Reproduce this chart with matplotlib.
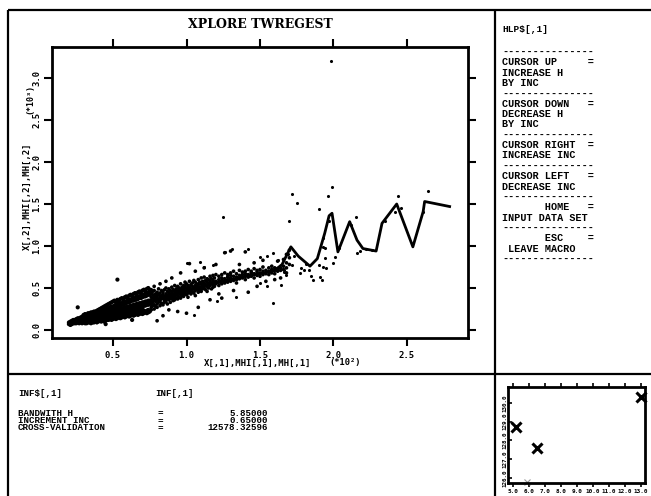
import matplotlib.pyplot as plt

W, H = 651, 496

# kernel regression estimate (x in units of 10^2, y in units of 10^3)
fit_x = [0.20, 0.30, 0.40, 0.50, 0.60, 0.70, 0.80, 0.90, 1.00, 1.10, 1.20,
         1.30, 1.40, 1.50, 1.60, 1.65, 1.71, 1.76, 1.84, 1.89, 1.94, 1.97,
         1.99, 2.03, 2.11, 2.16, 2.20, 2.29, 2.33, 2.43, 2.54, 2.61, 2.62, 2.79]
fit_y = [0.08, 0.12, 0.16, 0.20, 0.25, 0.30, 0.36, 0.42, 0.47, 0.52, 0.56,
         0.60, 0.64, 0.67, 0.71, 0.78, 0.99, 0.88, 0.76, 0.85, 1.15, 1.36,
         1.39, 0.93, 1.29, 1.07, 0.97, 0.94, 1.27, 1.50, 0.99, 1.41, 1.53, 1.47]

# main body of the observations: (x, [y values at that x])
cloud_cols = [
    (0.20, [0.07, 0.09]),
    (0.21, [0.08, 0.06, 0.10]),
    (0.22, [0.09, 0.07, 0.11]),
    (0.23, [0.10, 0.08, 0.12, 0.09]),
    (0.24, [0.10, 0.08, 0.12, 0.11]),
    (0.25, [0.11, 0.09, 0.13, 0.08, 0.12]),
    (0.26, [0.11, 0.09, 0.14, 0.10, 0.27]),
    (0.27, [0.12, 0.10, 0.14, 0.08, 0.11]),
    (0.28, [0.12, 0.09, 0.15, 0.11, 0.13]),
    (0.29, [0.12, 0.10, 0.16, 0.08, 0.14]),
    (0.30, [0.13, 0.10, 0.16, 0.09, 0.12, 0.18]),
    (0.31, [0.13, 0.10, 0.17, 0.08, 0.15, 0.11, 0.19]),
    (0.32, [0.14, 0.09, 0.16, 0.11, 0.18, 0.12, 0.08]),
    (0.33, [0.14, 0.10, 0.17, 0.12, 0.20, 0.09, 0.15]),
    (0.34, [0.15, 0.11, 0.18, 0.09, 0.13, 0.20, 0.16]),
    (0.35, [0.15, 0.10, 0.19, 0.12, 0.17, 0.08, 0.21, 0.13]),
    (0.36, [0.16, 0.12, 0.19, 0.09, 0.14, 0.21, 0.11, 0.17]),
    (0.37, [0.16, 0.11, 0.20, 0.13, 0.18, 0.09, 0.22, 0.14]),
    (0.38, [0.17, 0.12, 0.20, 0.10, 0.15, 0.22, 0.13, 0.18]),
    (0.39, [0.17, 0.11, 0.21, 0.14, 0.19, 0.09, 0.23, 0.15]),
    (0.40, [0.18, 0.12, 0.22, 0.10, 0.15, 0.20, 0.13, 0.24]),
    (0.41, [0.18, 0.13, 0.22, 0.11, 0.16, 0.20, 0.14, 0.25]),
    (0.42, [0.19, 0.12, 0.23, 0.10, 0.16, 0.21, 0.14, 0.26, 0.17]),
    (0.43, [0.19, 0.13, 0.24, 0.11, 0.17, 0.22, 0.15, 0.27, 0.20]),
    (0.44, [0.20, 0.14, 0.24, 0.10, 0.17, 0.22, 0.15, 0.28, 0.12]),
    (0.45, [0.20, 0.13, 0.25, 0.11, 0.18, 0.23, 0.16, 0.29, 0.07]),
    (0.46, [0.21, 0.14, 0.26, 0.12, 0.18, 0.23, 0.16, 0.30, 0.19]),
    (0.47, [0.21, 0.15, 0.26, 0.12, 0.19, 0.24, 0.17, 0.31, 0.14]),
    (0.48, [0.22, 0.14, 0.27, 0.13, 0.19, 0.25, 0.17, 0.32, 0.16]),
    (0.49, [0.22, 0.15, 0.28, 0.12, 0.20, 0.25, 0.18, 0.33, 0.24]),
    (0.50, [0.23, 0.16, 0.28, 0.13, 0.20, 0.26, 0.18, 0.34, 0.15]),
    (0.51, [0.23, 0.15, 0.29, 0.14, 0.21, 0.27, 0.19, 0.35, 0.17]),
    (0.52, [0.24, 0.16, 0.30, 0.13, 0.21, 0.27, 0.19, 0.33, 0.18]),
    (0.53, [0.24, 0.17, 0.30, 0.14, 0.22, 0.28, 0.20, 0.36, 0.60]),
    (0.54, [0.25, 0.16, 0.31, 0.15, 0.22, 0.29, 0.20, 0.35, 0.18]),
    (0.55, [0.25, 0.17, 0.32, 0.14, 0.23, 0.29, 0.21, 0.37, 0.19]),
    (0.56, [0.26, 0.18, 0.32, 0.15, 0.23, 0.30, 0.21, 0.38, 0.20]),
    (0.57, [0.26, 0.17, 0.33, 0.16, 0.24, 0.31, 0.22, 0.36, 0.19]),
    (0.58, [0.27, 0.18, 0.34, 0.15, 0.24, 0.31, 0.22, 0.39, 0.20]),
    (0.59, [0.27, 0.19, 0.34, 0.16, 0.25, 0.32, 0.23, 0.40, 0.21]),
    (0.60, [0.28, 0.18, 0.35, 0.17, 0.25, 0.33, 0.23, 0.38, 0.21]),
    (0.61, [0.28, 0.19, 0.36, 0.16, 0.26, 0.33, 0.24, 0.41, 0.22]),
    (0.62, [0.29, 0.20, 0.36, 0.17, 0.26, 0.34, 0.24, 0.42, 0.22]),
    (0.63, [0.29, 0.19, 0.37, 0.18, 0.27, 0.35, 0.25, 0.40, 0.12]),
    (0.64, [0.30, 0.20, 0.38, 0.17, 0.27, 0.35, 0.25, 0.43, 0.23]),
    (0.65, [0.30, 0.21, 0.38, 0.18, 0.28, 0.36, 0.26, 0.44, 0.23]),
    (0.66, [0.31, 0.20, 0.39, 0.19, 0.28, 0.36, 0.26, 0.42, 0.24]),
    (0.67, [0.31, 0.21, 0.40, 0.18, 0.29, 0.37, 0.27, 0.45, 0.24]),
    (0.68, [0.32, 0.22, 0.40, 0.19, 0.29, 0.38, 0.27, 0.46, 0.25]),
    (0.69, [0.32, 0.21, 0.41, 0.20, 0.30, 0.38, 0.28, 0.44, 0.25]),
    (0.70, [0.33, 0.22, 0.42, 0.19, 0.30, 0.39, 0.28, 0.47, 0.26]),
    (0.71, [0.33, 0.23, 0.42, 0.20, 0.31, 0.40, 0.29, 0.48]),
    (0.72, [0.34, 0.22, 0.43, 0.21, 0.31, 0.40, 0.29, 0.46]),
    (0.73, [0.34, 0.23, 0.44, 0.20, 0.32, 0.41, 0.30, 0.49]),
    (0.74, [0.35, 0.24, 0.44, 0.21, 0.32, 0.42, 0.30, 0.50]),
    (0.75, [0.35, 0.23, 0.45, 0.22, 0.33, 0.42, 0.31, 0.48]),
    (0.76, [0.31, 0.44, 0.27, 0.39, 0.35, 0.48, 0.24]),
    (0.77, [0.38, 0.29, 0.42, 0.33, 0.46]),
    (0.78, [0.36, 0.25, 0.41, 0.30, 0.47, 0.52]),
    (0.79, [0.34, 0.43, 0.28, 0.39]),
    (0.80, [0.40, 0.31, 0.45, 0.27, 0.36, 0.11]),
    (0.81, [0.37, 0.49, 0.33, 0.42]),
    (0.82, [0.35, 0.44, 0.29, 0.39, 0.55]),
    (0.83, [0.41, 0.32, 0.47, 0.37]),
    (0.84, [0.38, 0.45, 0.30, 0.42, 0.17]),
    (0.85, [0.36, 0.48, 0.40, 0.33]),
    (0.86, [0.43, 0.34, 0.39, 0.50, 0.58]),
    (0.87, [0.41, 0.31, 0.46, 0.37]),
    (0.88, [0.44, 0.36, 0.49, 0.40, 0.24]),
    (0.89, [0.38, 0.47, 0.42, 0.33]),
    (0.90, [0.45, 0.37, 0.51, 0.41, 0.62]),
    (0.91, [0.43, 0.35, 0.48, 0.39]),
    (0.92, [0.46, 0.40, 0.53, 0.36]),
    (0.93, [0.42, 0.49, 0.38, 0.45]),
    (0.94, [0.47, 0.41, 0.52, 0.37, 0.22]),
    (0.95, [0.44, 0.50, 0.39, 0.46]),
    (0.96, [0.48, 0.42, 0.55, 0.38, 0.68]),
    (0.97, [0.45, 0.51, 0.41, 0.47]),
    (0.98, [0.49, 0.43, 0.53, 0.40]),
    (0.99, [0.46, 0.52, 0.44, 0.57]),
    (1.00, [0.50, 0.42, 0.55, 0.47, 0.20]),
    (1.01, [0.48, 0.53, 0.44, 0.39]),
    (1.02, [0.51, 0.45, 0.58, 0.49, 0.79]),
    (1.03, [0.47, 0.54, 0.43]),
    (1.04, [0.52, 0.46, 0.56, 0.49]),
    (1.05, [0.50, 0.44, 0.59]),
    (1.06, [0.53, 0.47, 0.57, 0.41, 0.70]),
    (1.07, [0.49, 0.55, 0.51]),
    (1.08, [0.54, 0.48, 0.60, 0.45, 0.27]),
    (1.09, [0.51, 0.57, 0.47]),
    (1.10, [0.55, 0.50, 0.62, 0.46]),
    (1.11, [0.53, 0.58, 0.49]),
    (1.12, [0.56, 0.51, 0.63, 0.74]),
    (1.13, [0.54, 0.48, 0.59]),
    (1.14, [0.57, 0.52, 0.61, 0.46]),
    (1.15, [0.55, 0.60, 0.50]),
    (1.16, [0.58, 0.53, 0.64, 0.36]),
    (1.17, [0.56, 0.49, 0.61]),
    (1.18, [0.59, 0.54, 0.65, 0.51]),
    (1.19, [0.57, 0.62, 0.52]),
    (1.20, [0.58, 0.55, 0.66, 0.78]),
    (1.22, [0.60, 0.53, 0.64, 0.57, 0.43]),
    (1.24, [0.59, 0.66, 0.55, 0.62, 0.38]),
    (1.26, [0.61, 0.56, 0.68, 0.58, 0.92]),
    (1.28, [0.63, 0.57, 0.66, 0.60]),
    (1.30, [0.62, 0.68, 0.58, 0.65, 0.94]),
    (1.32, [0.64, 0.59, 0.70, 0.47]),
    (1.34, [0.63, 0.67, 0.60, 0.56]),
    (1.36, [0.65, 0.61, 0.71, 0.78]),
    (1.38, [0.66, 0.62, 0.69]),
    (1.40, [0.64, 0.70, 0.60, 0.67, 0.93]),
    (1.42, [0.66, 0.63, 0.72, 0.45]),
    (1.44, [0.68, 0.64, 0.70]),
    (1.46, [0.67, 0.73, 0.62, 0.80]),
    (1.48, [0.69, 0.65, 0.71, 0.52]),
    (1.50, [0.68, 0.72, 0.64]),
    (1.52, [0.70, 0.66, 0.75, 0.83]),
    (1.54, [0.71, 0.67, 0.58]),
    (1.56, [0.70, 0.74, 0.66]),
    (1.58, [0.72, 0.68, 0.76]),
    (1.60, [0.71, 0.74, 0.60, 0.67]),
    (1.62, [0.73, 0.70, 0.82]),
    (1.64, [0.74, 0.71, 0.62]),
    (1.66, [0.76, 0.72, 0.84]),
    (1.68, [0.80, 0.74, 0.90, 0.68]),
    (1.70, [0.86, 0.78, 0.95]),
]

# observations away from the main body
extra_x = [1.25, 1.72, 1.75, 1.70, 1.90, 1.96, 1.98, 1.99, 2.15, 2.44, 2.64,
           1.26, 1.31, 1.42, 1.50, 1.55, 1.59, 1.59, 1.34, 1.21, 1.05, 1.09,
           1.00, 1.12, 1.18, 1.50, 1.55, 1.64, 1.66, 1.66, 1.72, 1.77, 1.85,
           1.91, 1.93, 1.94, 1.93, 1.93, 1.94, 2.00, 2.01, 1.95, 1.90, 1.86,
           1.92, 1.78, 1.80, 2.16, 2.18, 2.42, 2.61, 2.22, 2.26, 1.62, 1.69,
           1.73, 1.68, 2.04, 2.12, 2.35, 2.46, 1.81, 1.83, 1.97]
extra_y = [1.35, 1.62, 1.51, 1.30, 1.44, 1.60, 3.20, 1.70, 1.35, 1.60, 1.65,
           0.93, 0.96, 0.96, 0.87, 0.88, 0.92, 0.32, 0.39, 0.35, 0.18, 0.81,
           0.80, 0.75, 0.77, 0.56, 0.52, 0.54, 0.69, 0.72, 0.77, 0.68, 0.64,
           0.63, 0.75, 0.98, 1.10, 0.99, 0.86, 0.80, 0.87, 0.74, 0.77, 0.60,
           0.60, 0.74, 0.71, 0.92, 0.94, 1.40, 1.40, 0.96, 0.95, 0.83, 0.90,
           0.88, 0.66, 0.98, 1.25, 1.30, 1.45, 0.78, 0.72, 1.30]

x_ticks = [0.5, 1.0, 1.5, 2.0, 2.5]
y_ticks = [0.0, 0.5, 1.0, 1.5, 2.0, 2.5, 3.0]

# current settings of the macro
bandwidth = 5.85
increment = 0.65
cross_val = 12578.32596

# cross-validation scores already visited (score in units of 10^2)
cv_h = [5.2, 6.5, 13.0]
cv_score = [128.7, 127.6, 130.3]
cv_xticks = [5, 6, 7, 8, 9, 10, 11, 12, 13]
cv_yticks = [126, 127, 128, 129, 130]

help_lines = [
    "---------------",
    "CURSOR UP     =",
    "INCREASE H",
    "BY INC",
    "---------------",
    "CURSOR DOWN   =",
    "DECREASE H",
    "BY INC",
    "---------------",
    "CURSOR RIGHT  =",
    "INCREASE INC",
    "---------------",
    "CURSOR LEFT   =",
    "DECREASE INC",
    "---------------",
    "       HOME   =",
    "INPUT DATA SET",
    "---------------",
    "       ESC    =",
    " LEAVE MACRO",
    "---------------",
]

MONO = "DejaVu Sans Mono"
PANEL = "Liberation Mono"

fig = plt.figure(figsize=(W / 100, H / 100), dpi=100)

# frame of the four windows, drawn in pixel coordinates
ov = fig.add_axes([0, 0, 1, 1])
ov.set_xlim(0, W)
ov.set_ylim(H, 0)
ov.axis("off")
for xs, ys in [([8, W], [10, 10]), ([8, 8], [10, H]),
               ([495, 495], [10, H]), ([8, W], [374, 374])]:
    ov.plot(xs, ys, color="k", lw=1.6, solid_capstyle="butt")

ov.text(260, 24, "XPLORE TWREGEST", ha="center", va="center",
        family="DejaVu Serif", weight="bold", size=9)
ov.text(27, 196, "X[,2],MHI[,2],MH[,2]", rotation=90, ha="center",
        va="center", family=MONO, weight="bold", size=6.5)
ov.text(30, 99, "(*10³)", rotation=90, ha="center", va="center",
        family=MONO, weight="bold", size=6)
ov.text(258, 363, "X[,1],MHI[,1],MH[,1]", ha="center", va="center",
        family=MONO, weight="bold", size=6.5)
ov.text(345, 363, "(*10²)", ha="center", va="center",
        family=MONO, weight="bold", size=6.3)

# help window
ov.text(502, 29, "HLP$[,1]", ha="left", va="center",
        family=PANEL, weight="bold", size=6.8)
for i, line in enumerate(help_lines):
    ov.text(502, 52 + i * 10.35, line, ha="left", va="center",
            family=PANEL, weight="bold", size=7.3)

# info window
info_names = ["BANDWITH H", "INCREMENT INC", "CROSS-VALIDATION"]
info_values = [f"{bandwidth:.5f}", f"{increment:.5f}", f"{cross_val:.5f}"]
ov.text(18, 393, "INF$[,1]", ha="left", va="center",
        family=PANEL, weight="bold", size=6.6)
ov.text(155, 393, "INF[,1]", ha="left", va="center",
        family=PANEL, weight="bold", size=6.6)
for i, (name, val) in enumerate(zip(info_names, info_values)):
    yy = 413 + i * 7.5
    ov.text(18, yy, name, ha="left", va="center",
            family=PANEL, weight="bold", size=6.6)
    ov.text(157, yy, "=", ha="left", va="center",
            family=PANEL, weight="bold", size=6.6)
    ov.text(268, yy, val, ha="right", va="center",
            family=PANEL, weight="bold", size=6.6)

# scatter plot with regression curve
ax = fig.add_axes([52 / W, 1 - 338 / H, 416 / W, 291 / H])
cloud_x = [x for x, ys in cloud_cols for _ in ys]
cloud_y = [y for _, ys in cloud_cols for y in ys]
# the left part is crowded, so use bigger dots there
dot_size = [9 if x <= 0.75 else 7 for x in cloud_x]
ax.scatter(cloud_x, cloud_y, s=dot_size, c="k", linewidths=0)
ax.scatter(extra_x, extra_y, s=5, c="k", linewidths=0)
ax.plot(fit_x, fit_y, color="k", lw=2)
ax.set_xlim(0.085, 2.915)
ax.set_ylim(-0.095, 3.369)
ax.set_xticks(x_ticks)
ax.set_xticklabels([f"{t:.1f}" for t in x_ticks], family=MONO,
                   weight="bold", size=6.4)
ax.set_yticks(y_ticks)
ax.set_yticklabels([f"{t:.1f}" for t in y_ticks], family=MONO,
                   weight="bold", size=6.4, rotation=90, va="center")
ax.tick_params(direction="out", length=6, width=1.5, top=True, right=True)
ax.tick_params(axis="x", pad=3)
ax.tick_params(axis="y", pad=1.5)
for sp in ax.spines.values():
    sp.set_linewidth(2)

# cross-validation window
cx = fig.add_axes([508 / W, 1 - 483 / H, 137 / W, 96 / H])
cx.plot(cv_h, cv_score, "x", color="k", ms=7, mew=2.2, clip_on=False)
cx.plot([bandwidth], [cross_val / 100], "x", color="0.6", ms=4, mew=0.8,
        clip_on=False)
cx.set_xlim(4.6875, 13.25)
cx.set_ylim(125.733, 130.853)
cx.set_xticks(cv_xticks)
cx.set_xticklabels([f"{t:.1f}" for t in cv_xticks], family=MONO,
                   weight="bold", size=4.3)
cx.set_yticks(cv_yticks)
cx.set_yticklabels([f"{t:.1f}" for t in cv_yticks], family=MONO,
                   weight="bold", size=4.2, rotation=90, va="center")
cx.tick_params(axis="x", direction="out", length=3, width=1.2, top=True,
               pad=1.5)
cx.tick_params(axis="y", direction="in", length=3, width=1.2, pad=0.5)
for sp in cx.spines.values():
    sp.set_linewidth(2)

fig.savefig("out.png", dpi=100)
